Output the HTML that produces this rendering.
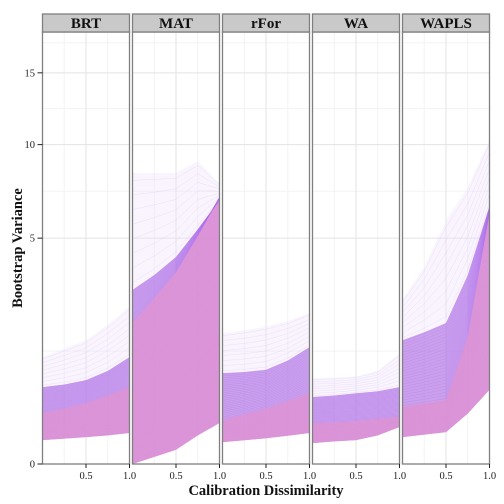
<!DOCTYPE html>
<html><head><meta charset="utf-8"><style>
html,body{margin:0;padding:0;background:#fff;}
svg{display:block;font-family:"Liberation Serif",serif;}
</style></head><body>
<svg id="chart" width="504" height="504" viewBox="0 0 504 504"></svg>
<script>
const panels = ["BRT","MAT","rFor","WA","WAPLS"];
const xs = [0, 0.25, 0.5, 0.75, 1];
const lowerBRT  = [0.056, 0.063, 0.071, 0.08, 0.094];
const pinkBRT   = [0.255, 0.30, 0.365, 0.46, 0.58];
const purpleBRT = [0.58, 0.62, 0.69, 0.85, 1.12];
const faintBRT  = [1.12, 1.3, 1.5, 1.9, 2.42];
const lowerMAT  = [0.0, 0.005, 0.02, 0.08, 0.165];
const pinkMAT   = [1.95, 2.7, 3.6, 5.1, 7.0];
const purpleMAT = [2.97, 3.5, 4.2, 5.4, 6.8];
const faintMAT  = [8.3, 8.3, 8.3, 9.0, 7.7];
const lowerRF   = [0.047, 0.055, 0.065, 0.078, 0.094];
const pinkRF    = [0.19, 0.24, 0.30, 0.39, 0.49];
const purpleRF  = [0.81, 0.83, 0.87, 1.05, 1.34];
const faintRF   = [1.68, 1.75, 1.85, 2.0, 2.24];
const lowerWA   = [0.043, 0.05, 0.056, 0.08, 0.134];
const pinkWA    = [0.165, 0.17, 0.18, 0.2, 0.22];
const purpleWA  = [0.44, 0.46, 0.49, 0.52, 0.58];
const faintWA   = [0.72, 0.73, 0.75, 0.85, 1.2];
const lowerWP   = [0.071, 0.085, 0.1, 0.25, 0.54];
const pinkWP    = [0.32, 0.36, 0.4, 1.6, 6.2];
const purpleWP  = [1.5, 1.7, 1.95, 3.5, 6.5];
const faintWP   = [2.64, 3.8, 5.8, 7.5, 10.3];
const lowers  = [lowerBRT, lowerMAT, lowerRF, lowerWA, lowerWP];
const pinks   = [pinkBRT, pinkMAT, pinkRF, pinkWA, pinkWP];
const purples = [purpleBRT, purpleMAT, purpleRF, purpleWA, purpleWP];
const faints  = [faintBRT, faintMAT, faintRF, faintWA, faintWP];
const yTicks = [0, 5, 10, 15];
const yMinor = [1.25, 7.29, 12.38, 17.4];
const xTickLabels = ["0.5", "1.0"];
const xTickVals = [0.5, 1.0];

const NS = "http://www.w3.org/2000/svg";
const svg = document.getElementById("chart");
const pLeft = [42.5, 132.5, 222.5, 312.5, 402.5];
const pW = 87, pTop = 32, pBot = 464;
function yS(v){ return pBot - 101*Math.sqrt(Math.max(0,v)); }
function xS(i, x){ return pLeft[i] + x*pW; }
function mk(tag, attrs, parent){
  const e = document.createElementNS(NS, tag);
  for (const k in attrs) e.setAttribute(k, attrs[k]);
  (parent||svg).appendChild(e); return e;
}
function lerpS(a, b, f){ const sa=Math.sqrt(a), sb=Math.sqrt(b); const s=sa+(sb-sa)*f; return s*s; }

panels.forEach((name, i) => {
  const g = mk("g", {});
  
  
  const cp = mk("clipPath", {id:"cp"+i}, g);
  mk("rect", {x:pLeft[i], y:pTop, width:pW, height:pBot-pTop}, cp);
  [0.25, 0.75].forEach(x => mk("line", {x1:xS(i,x), x2:xS(i,x), y1:pTop, y2:pBot, stroke:"#f3f3f3", "stroke-width":1}, g));
  yMinor.forEach(v => { if (yS(v) > pTop) mk("line", {x1:pLeft[i], x2:pLeft[i]+pW, y1:yS(v), y2:yS(v), stroke:"#f3f3f3", "stroke-width":1}, g); });
  [0.5].forEach(x => mk("line", {x1:xS(i,x), x2:xS(i,x), y1:pTop, y2:pBot, stroke:"#e3e3e3", "stroke-width":1}, g));
  yTicks.forEach(v => mk("line", {x1:pLeft[i], x2:pLeft[i]+pW, y1:yS(v), y2:yS(v), stroke:"#e3e3e3", "stroke-width":1}, g));
  const dg = mk("g", {"clip-path":"url(#cp"+i+")"}, g);
  
  
  function band(lo, hi, fill, op){
    let d = "M" + xs.map((x,k)=>xS(i,x).toFixed(1)+","+yS(lo[k]).toFixed(1)).join("L");
    for (let k=xs.length-1;k>=0;k--) d += "L"+xS(i,xs[k]).toFixed(1)+","+yS(hi[k]).toFixed(1);
    mk("path", {d:d+"Z", fill:fill, "fill-opacity":op}, dg);
  }
  band(purples[i], faints[i], "#efe0fa", 0.35);
  band(lowers[i], purples[i], "#b477e6", 0.7);
  band(lowers[i], pinks[i], "#dc92d6", 0.92);
  function lines(lo, hi, n, color, op){
    for (let j=0;j<n;j++){
      const f = (j+0.5)/n;
      const pts = xs.map((x,k)=>xS(i,x).toFixed(1)+","+yS(lerpS(lo[k],hi[k],f)).toFixed(1)).join(" ");
      mk("polyline", {points:pts, fill:"none", stroke:color, "stroke-opacity":op, "stroke-width":0.5}, dg);
    }
  }
  lines(pinks[i], purples[i], 25, "#a866ee", 0.3);
  lines(purples[i], faints[i], 8, "#c8a2f2", 0.25);
  lines(lowers[i], pinks[i], 15, "#d890d4", 0.4);
  const b = mk("rect", {x:pLeft[i], y:pTop, width:pW, height:pBot-pTop, fill:"none", stroke:"#7f7f7f", "stroke-width":1.3}, g);
  
  
  const s = mk("rect", {x:pLeft[i], y:14, width:pW, height:18, fill:"#c9c9c9", stroke:"#7f7f7f", "stroke-width":1.3}, g);
  
  
  const t = mk("text", {x:pLeft[i]+pW/2, y:28, "text-anchor":"middle", "font-size":15, "font-weight":"bold", fill:"#111"}, g);
  t.textContent = name;
  
  
  xTickVals.forEach((x, k) => {
    mk("line", {x1:xS(i,x), x2:xS(i,x), y1:pBot, y2:pBot+4, stroke:"#222", "stroke-width":1}, g);
    const tl = mk("text", {x:xS(i,x), y:479, "text-anchor":"middle", "font-size":10.5, fill:"#222"}, g);
    tl.textContent = xTickLabels[k];
    
    
  });
});
yTicks.forEach(v => {
  mk("line", {x1:37.5, x2:42.5, y1:yS(v), y2:yS(v), stroke:"#222", "stroke-width":1});
  const tl = mk("text", {x:35, y:yS(v)+3.5, "text-anchor":"end", "font-size":10.5, fill:"#222"});
  tl.textContent = String(v);
  
  
});
</script>
<div style="position:absolute;left:0;top:0;width:504px;height:504px;pointer-events:none;">
<svg width="504" height="504" style="font-family:'Liberation Serif',serif">
<text x="266" y="495" text-anchor="middle" font-size="14.5" font-weight="bold" fill="#111">Calibration Dissimilarity</text>
<text transform="translate(22,248) rotate(-90)" text-anchor="middle" font-size="14.5" font-weight="bold" fill="#111">Bootstrap Variance</text>
</svg></div>
</body></html>
